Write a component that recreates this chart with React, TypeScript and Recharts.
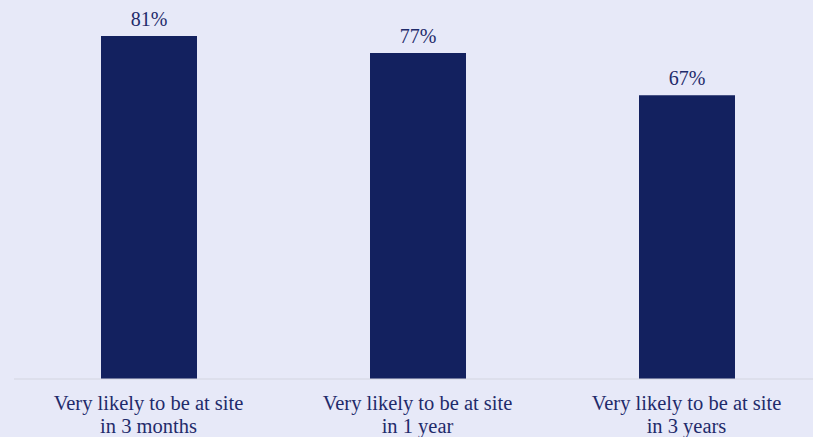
import React from "react";
import { BarChart, Bar, XAxis, YAxis, LabelList } from "recharts";

const categories = [
  "Very likely to be at site|in 3 months",
  "Very likely to be at site|in 1 year",
  "Very likely to be at site|in 3 years",
];
const values = [81, 77, 67];

const data = categories.map((c, i) => ({ name: c, value: values[i] }));

const bg = "#E7E9F8";
const navy = "#13215F";
const textColor = "#1F2B6B";
const font = "'Liberation Serif', serif";

const TwoLineTick: React.FC<any> = ({ x, y, payload }) => {
  const lines = String(payload.value).split("|");
  return (
    <text x={x} y={y} textAnchor="middle" fill={textColor} fontFamily={font} fontSize={20.5}>
      {lines.map((l, i) => (
        <tspan key={i} x={x} dy={i === 0 ? 23 : 23}>
          {l}
        </tspan>
      ))}
    </text>
  );
};

export default function App() {
  return (
    <div style={{ position: "fixed", left: 0, top: 0, width: 813, height: 437, background: bg, overflow: "hidden" }}>
      <BarChart
        width={822}
        height={437}
        data={data}
        margin={{ top: 19, right: 1, left: 14, bottom: 0 }}
      >
        <XAxis
          dataKey="name"
          interval={0}
          height={58}
          tickLine={false}
          axisLine={{ stroke: "#D3D5E0" }}
          tick={<TwoLineTick />}
        />
        <YAxis hide domain={[0, 85]} />
        <Bar dataKey="value" fill={navy} barSize={96} isAnimationActive={false}>
          <LabelList
            dataKey="value"
            position="top"
            offset={10}
            formatter={(v: any) => `${v}%`}
            fill={textColor}
            fontFamily={font}
            fontSize={20}
          />
        </Bar>
      </BarChart>
    </div>
  );
}
